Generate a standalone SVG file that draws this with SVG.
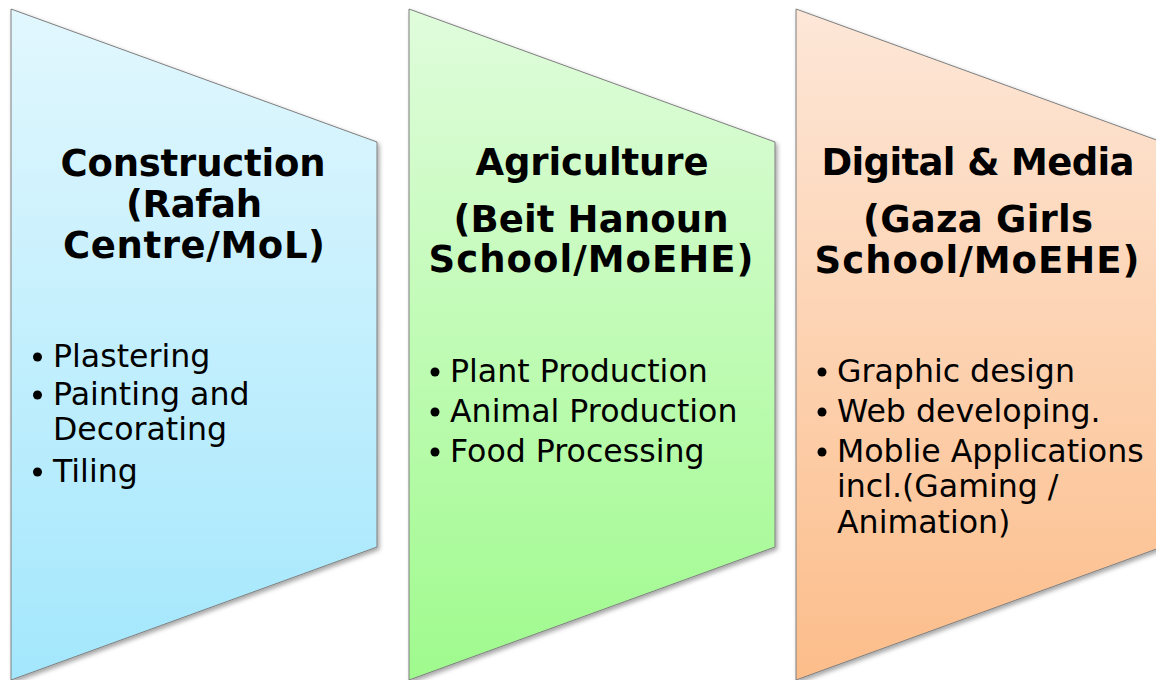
<svg xmlns="http://www.w3.org/2000/svg" width="1156" height="680" viewBox="0 0 1156 680">
  <style>
    .panel { stroke: #7f7f7f; stroke-width: 1; filter: url(#shadow); }
    .title { font-family: "DejaVu Sans", Verdana, sans-serif; font-weight: bold; font-size: 37px; fill: #000; text-anchor: middle; }
    .item { font-family: "DejaVu Sans", Verdana, sans-serif; font-size: 31.6px; fill: #000; }
    .dot { fill: #000; }
  </style>
  <defs>
    <filter id="shadow" x="-5%" y="-5%" width="115%" height="115%">
      <feDropShadow dx="2" dy="2.5" stdDeviation="2" flood-color="#000" flood-opacity="0.35"/>
    </filter>
    <linearGradient id="gBlue" x1="0" y1="0" x2="0" y2="1">
      <stop offset="0" stop-color="#e2f7fe"/>
      <stop offset="1" stop-color="#a3e7fc"/>
    </linearGradient>
    <linearGradient id="gGreen" x1="0" y1="0" x2="0" y2="1">
      <stop offset="0" stop-color="#e0fcdc"/>
      <stop offset="1" stop-color="#9ffa8d"/>
    </linearGradient>
    <linearGradient id="gOrange" x1="0" y1="0" x2="0" y2="1">
      <stop offset="0" stop-color="#fde7d8"/>
      <stop offset="1" stop-color="#fcbd8a"/>
    </linearGradient>
  </defs>

  <rect width="1156" height="680" fill="#fff"/>

  <g id="construction">
    <path class="panel" d="M11,9 L377,142 L377,547 L11,680 Z" fill="url(#gBlue)"/>
    <text class="title" x="193" y="176" textLength="265" lengthAdjust="spacing">Construction</text>
    <text class="title" x="194" y="217" textLength="136" lengthAdjust="spacing">(Rafah</text>
    <text class="title" x="194" y="258" textLength="262" lengthAdjust="spacing">Centre/MoL)</text>
    <circle class="dot" cx="37.5" cy="357" r="4.5"/>
    <text class="item" x="53" y="367">Plastering</text>
    <circle class="dot" cx="37.5" cy="395" r="4.5"/>
    <text class="item" x="53" y="405">Painting and</text>
    <text class="item" x="53" y="440">Decorating</text>
    <circle class="dot" cx="37.5" cy="472" r="4.5"/>
    <text class="item" x="53" y="482">Tiling</text>
  </g>

  <g id="agriculture">
    <path class="panel" d="M409,9 L775,142 L775,547 L409,680 Z" fill="url(#gGreen)"/>
    <text class="title" x="592" y="175" textLength="233" lengthAdjust="spacing">Agriculture</text>
    <text class="title" x="591" y="232" textLength="275" lengthAdjust="spacing">(Beit Hanoun</text>
    <text class="title" x="591" y="272" textLength="325" lengthAdjust="spacing">School/MoEHE)</text>
    <circle class="dot" cx="435" cy="372" r="4.5"/>
    <text class="item" x="450" y="382">Plant Production</text>
    <circle class="dot" cx="435" cy="412" r="4.5"/>
    <text class="item" x="450" y="422">Animal Production</text>
    <circle class="dot" cx="435" cy="452" r="4.5"/>
    <text class="item" x="450" y="462">Food Processing</text>
  </g>

  <g id="digital-media">
    <path class="panel" d="M796,9 L1162,142 L1162,547 L796,680 Z" fill="url(#gOrange)"/>
    <text class="title" x="978" y="175" textLength="313" lengthAdjust="spacing">Digital &amp; Media</text>
    <text class="title" x="978" y="232" textLength="230" lengthAdjust="spacing">(Gaza Girls</text>
    <text class="title" x="977" y="273" textLength="325" lengthAdjust="spacing">School/MoEHE)</text>
    <circle class="dot" cx="822" cy="372" r="4.5"/>
    <text class="item" x="837" y="382">Graphic design</text>
    <circle class="dot" cx="822" cy="412" r="4.5"/>
    <text class="item" x="837" y="422">Web developing.</text>
    <circle class="dot" cx="822" cy="452" r="4.5"/>
    <text class="item" x="837" y="462">Moblie Applications</text>
    <text class="item" x="837" y="497">incl.(Gaming /</text>
    <text class="item" x="837" y="533">Animation)</text>
  </g>

  <g id="connectors"/>
</svg>
